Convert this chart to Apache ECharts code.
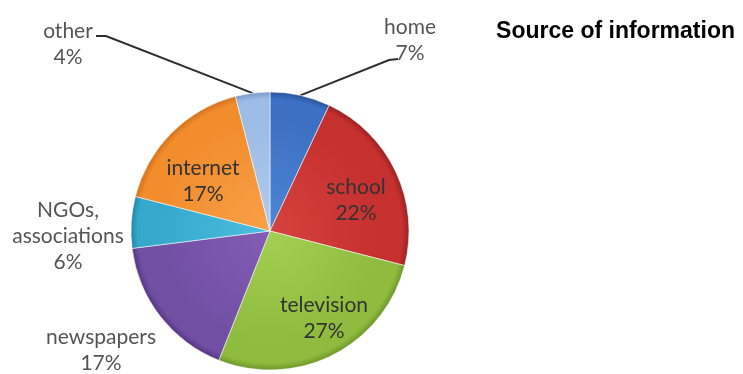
<!DOCTYPE html>
<html>
<head>
<meta charset="utf-8">
<script src="https://cdn.jsdelivr.net/npm/echarts@6/dist/echarts.min.js"></script>
<style>
  html, body { margin: 0; padding: 0; background: #ffffff; }
  #chart { width: 743px; height: 374px; }
</style>
</head>
<body>
<div id="chart"></div>
<script>
// Survey answers: where people get their information
const categories = ['home', 'school', 'television', 'newspapers', 'NGOs, associations', 'internet', 'other'];
const shares = [7, 22, 27, 17, 6, 17, 4];
const titleText = 'Source of information';

// Slice shading: light centre, base, darker rim
const sliceColors = {
  'home':               ['#5086d4', '#3b70c4', '#2a5599'],
  'school':             ['#d6423e', '#c6302f', '#9c2222'],
  'television':         ['#a2d052', '#8fbc3e', '#6e972a'],
  'newspapers':         ['#845cb4', '#7150a4', '#553583'],
  'NGOs, associations': ['#4cbfe0', '#36a8cc', '#2587aa'],
  'internet':           ['#f9a04a', '#f18d2d', '#d4711a'],
  'other':              ['#b0cbee', '#9cbbe5', '#7c9ac8']
};

const PIE_CENTER = [270, 231];
const PIE_RADIUS = 139;

// Where each label sits, plus leader-line bends for the two small slices
const labelSpots = {
  'other':              { x: 68,  y: 44,  line: [[106, 36], [96, 36]] },
  'home':               { x: 410, y: 40,  line: [[389, 60], [398, 59]] },
  'NGOs, associations': { x: 68,  y: 236 },
  'newspapers':         { x: 101, y: 350 },
  'internet':           { x: 203, y: 181 },
  'school':             { x: 356, y: 200 },
  'television':         { x: 324, y: 318 }
};
const outsideNames = ['other', 'home', 'NGOs, associations', 'newspapers'];
const linedNames = ['other', 'home'];

function shade(name) {
  const c = sliceColors[name];
  return {
    type: 'radial', global: true,
    x: PIE_CENTER[0], y: PIE_CENTER[1], r: PIE_RADIUS,
    colorStops: [
      { offset: 0, color: c[0] },
      { offset: 0.8, color: c[1] },
      { offset: 0.95, color: c[1] },
      { offset: 1, color: c[2] }
    ]
  };
}

const pieData = categories.map((name, i) => {
  const outside = outsideNames.includes(name);
  return {
    name: name,
    value: shares[i],
    itemStyle: { color: shade(name) },
    label: {
      position: outside ? 'outside' : 'inside',
      color: outside ? '#555555' : '#333333'
    },
    labelLine: { show: linedNames.includes(name) }
  };
});

const chart = echarts.init(document.getElementById('chart'), null, { renderer: 'canvas' });
chart.setOption({
  animation: false,
  backgroundColor: '#ffffff',
  title: {
    text: titleText,
    right: 3,
    top: 15,
    textStyle: { fontFamily: 'Liberation Sans', fontWeight: 'bold', fontSize: 23, color: '#000000' }
  },
  series: [{
    type: 'pie',
    center: PIE_CENTER,
    radius: [0, PIE_RADIUS],
    startAngle: 90,
    clockwise: true,
    avoidLabelOverlap: false,
    silent: true,
    itemStyle: { borderColor: 'rgba(255,255,255,0.55)', borderWidth: 1 },
    label: {
      show: true,
      fontFamily: 'Lato',
      fontSize: 21,
      lineHeight: 26,
      align: 'center',
      formatter: p => p.name.replace(', ', ',\n') + '\n' + p.value + '%'
    },
    labelLine: {
      show: true,
      lineStyle: { color: '#2e2e2e', width: 2 }
    },
    labelLayout: function (params) {
      const name = categories[params.dataIndex];
      const spot = labelSpots[name];
      const out = { x: spot.x, y: spot.y, align: 'center', verticalAlign: 'middle' };
      if (spot.line && params.labelLinePoints) {
        out.labelLinePoints = [params.labelLinePoints[0], spot.line[0], spot.line[1]];
      }
      return out;
    },
    data: pieData
  }]
});
</script>
</body>
</html>
